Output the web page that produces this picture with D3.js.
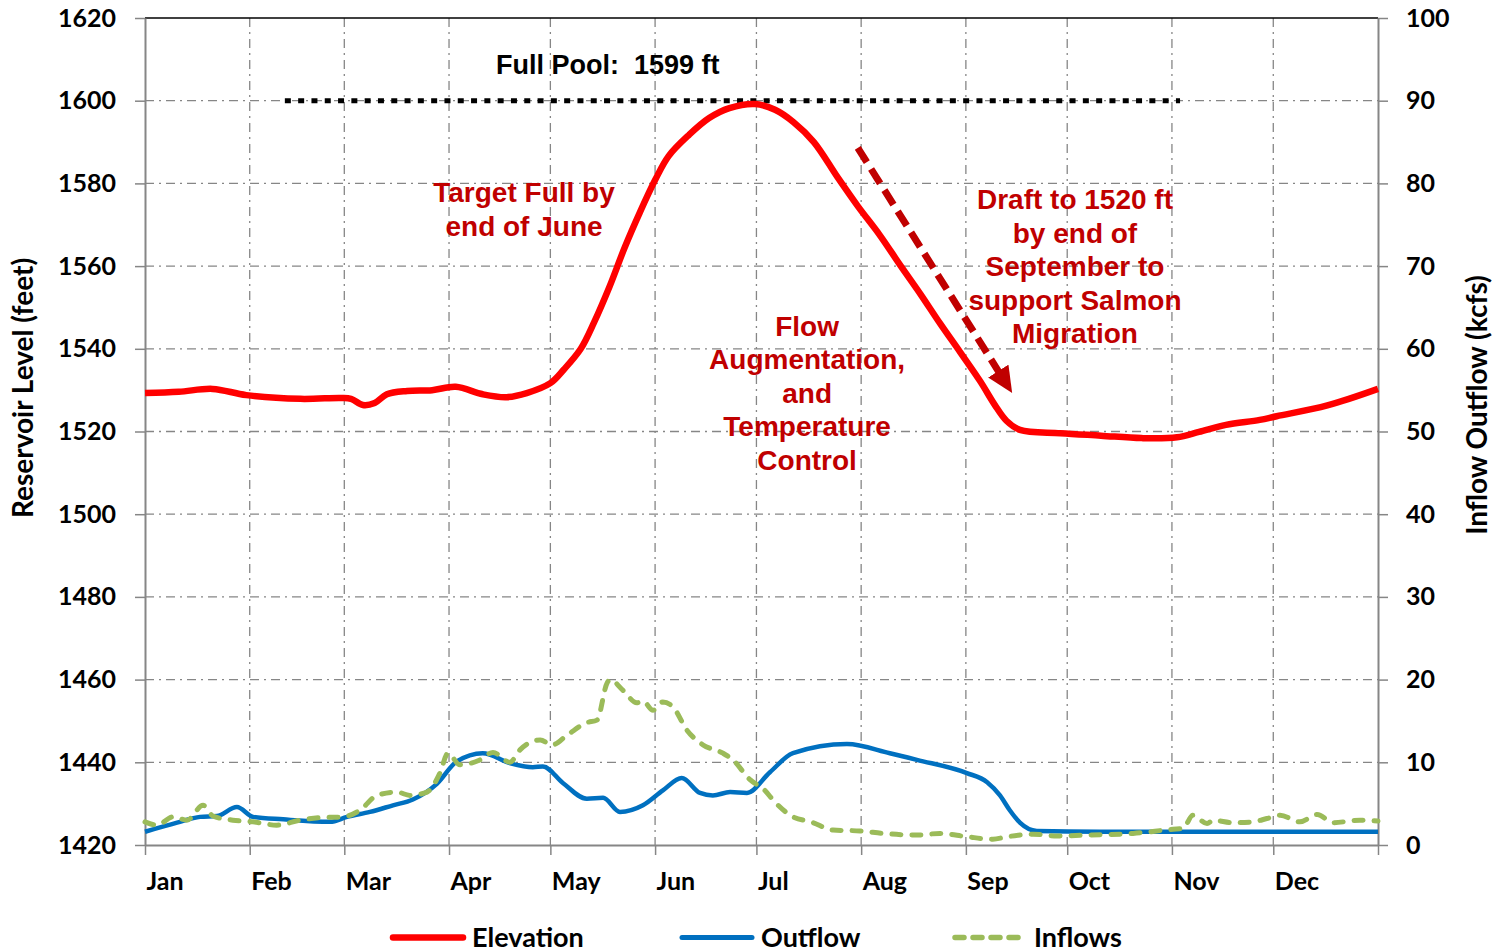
<!DOCTYPE html>
<html>
<head>
<meta charset="utf-8">
<script src="https://cdn.jsdelivr.net/npm/d3@7"></script>
<style>
  html, body { margin: 0; padding: 0; background: #ffffff; }
  svg { display: block; }
  text { white-space: pre; }
</style>
</head>
<body>
<svg id="chart" width="1499" height="952"></svg>
<script>
// ---------------- DATA ----------------
const months = ["Jan","Feb","Mar","Apr","May","Jun","Jul","Aug","Sep","Oct","Nov","Dec"];
const monthStartDays = [0,31,59,90,120,151,181,212,243,273,304,334,365];
const leftTicks = [1420,1440,1460,1480,1500,1520,1540,1560,1580,1600,1620];
const rightTicks = [0,10,20,30,40,50,60,70,80,90,100];

// Elevation (ft) : [day of year, value]
const elevation = [
  [0,1529.3],[10,1529.6],[20,1530.3],[30,1528.8],[46,1527.9],[58,1528.1],[61,1527.9],
  [64.5,1526.4],[68,1526.9],[71.6,1529.0],[77.6,1529.8],[85,1530.0],[92,1530.8],
  [100,1529.0],[107,1528.3],[113,1529.3],[120,1531.7],[124,1535.0],[129,1540.0],
  [133,1546.5],[137.5,1555.0],[142,1564.5],[146.5,1573.0],[151,1580.8],[155,1586.6],
  [161,1591.7],[167,1595.8],[173,1598.2],[180.6,1599.2],[186.5,1597.8],[192,1594.8],
  [198,1590.0],[205,1581.5],[211,1574.5],[217.5,1567.5],[223.5,1560.3],[229.5,1553.3],
  [235.3,1546.2],[241.3,1539.2],[247.2,1532.2],[251.5,1526.5],[255,1522.6],[259,1520.4],
  [271,1519.6],[283,1519.0],[295,1518.4],[305.5,1518.6],[312,1519.9],[320,1521.6],
  [330,1522.8],[335,1523.7],[350,1526.3],[365,1530.3]
];

// Outflow (kcfs) : [day, value]
const outflow = [
  [0,1.6],[9.5,2.7],[16.3,3.4],[21.3,3.5],[27.2,4.6],[32,3.4],[40.9,3.1],[54.8,2.8],
  [59.8,3.4],[66.6,4.0],[73.4,4.8],[79.3,5.5],[86.4,7.4],[92.3,10.1],[100,11.1],
  [108,9.9],[114.8,9.4],[117.8,9.5],[123.7,7.5],[130.8,5.6],[135.6,5.7],[140.6,4.0],
  [147.4,4.8],[153.3,6.6],[158.9,8.1],[164.3,6.3],[168.1,6.0],[173.2,6.4],[178.2,6.3],
  [185,8.8],[191.8,11.1],[207.8,12.2],[220.5,11.1],[228.5,10.3],[243.3,8.7],[249.3,7.6],
  [253.1,6.0],[256,4.2],[259,2.7],[264,1.7],[282.7,1.6],[312.3,1.6],[341.9,1.6],[365,1.6]
];

// Inflows (kcfs) : [day, value]
const inflows = [
  [0,2.8],[3.6,2.4],[8.3,3.4],[12.4,3.0],[17.2,4.8],[20.1,3.5],[26,3.0],[32,2.8],
  [39,2.4],[45.9,3.0],[51.8,3.3],[58.6,3.4],[63.6,4.2],[68.7,6.0],[74.6,6.4],[78.4,6.0],
  [83.5,6.4],[87.3,8.7],[89.7,11.1],[93.2,9.7],[99.2,10.3],[103,11.2],[108,10.0],
  [111,11.5],[117,12.7],[120.5,12.1],[125,13.3],[130.8,14.8],[133.8,15.1],[136.8,19.6],
  [137.7,20.0],[141.5,18.7],[145.6,17.2],[147.4,17.4],[150.4,16.3],[153.3,17.3],
  [156.3,16.7],[160.4,13.9],[165.2,12.1],[171.1,11.1],[174,10.3],[179.1,7.9],[183.5,6.6],
  [186,5.4],[191,3.6],[197.8,2.7],[203.7,1.8],[211.7,1.7],[218.5,1.4],[228.5,1.2],
  [235.3,1.4],[243.3,1.0],[251,0.7],[255.2,1.0],[262.9,1.3],[270,1.1],[278.9,1.2],
  [292.5,1.4],[304.3,1.9],[307.3,2.0],[310.2,3.6],[314.4,2.6],[316.2,3.0],[322.1,2.7],
  [328,2.8],[332.1,3.2],[336,3.6],[341.9,2.8],[347,3.7],[351.7,2.7],[359.7,3.0],[365,2.9]
];

const fullPool = { level: 1600, fromDay: 41.4, toDay: 306.4 };
const annotations = [
  { lines: ["Full Pool:  1599 ft"], day: 137, elev: 1606.5, color: "#000000", size: 27 },
  { lines: ["Target Full by", "end of June"], day: 112.2, elev: 1575.5, color: "#C00000", size: 28 },
  { lines: ["Flow", "Augmentation,", "and", "Temperature", "Control"], day: 196, elev: 1543.1, color: "#C00000", size: 28 },
  { lines: ["Draft to 1520 ft", "by end of", "September to", "support Salmon", "Migration"], day: 275.3, elev: 1573.8, color: "#C00000", size: 28 }
];
const draftArrow = { from: [211, 1588.6], to: [256.7, 1529.3] };

const seriesNames = ["Elevation", "Outflow", "Inflows"];
const leftTitle = "Reservoir Level (feet)";
const rightTitle = "Inflow Outflow (kcfs)";

// ---------------- LAYOUT ----------------
const svg = d3.select("#chart");
const X0 = 145, X1 = 1378, Y0 = 845, Y1 = 18;
const x = d3.scaleLinear().domain([0, 365]).range([X0, X1]);
const yL = d3.scaleLinear().domain([1420, 1620]).range([Y0, Y1]);
const yR = d3.scaleLinear().domain([0, 100]).range([Y0, Y1]);

const gridColor = "#868686";
const tickFont = "Lato, 'Open Sans', sans-serif";
const annFont = "'Liberation Sans', Arial, sans-serif";

// gridlines
const grid = svg.append("g");
grid.selectAll("line.h").data(leftTicks.filter(v => v > 1420 && v < 1620)).join("line")
  .attr("x1", X0).attr("x2", X1).attr("y1", d => yL(d)).attr("y2", d => yL(d))
  .attr("stroke", gridColor).attr("stroke-width", 1.3).attr("stroke-dasharray", "9,5,2,5");
grid.selectAll("line.v").data(monthStartDays.filter(d => d > 0 && d < 365)).join("line")
  .attr("x1", d => x(d)).attr("x2", d => x(d)).attr("y1", Y1).attr("y2", Y0)
  .attr("stroke", gridColor).attr("stroke-width", 1.3).attr("stroke-dasharray", "9,5,2,5");

// top border
svg.append("line").attr("x1", X0).attr("x2", X1).attr("y1", Y1).attr("y2", Y1)
  .attr("stroke", "#000").attr("stroke-width", 1.6);

// axes
function styleAxis(g) {
  g.select(".domain").attr("stroke", gridColor).attr("stroke-width", 2);
  g.selectAll(".tick line").attr("stroke", gridColor).attr("stroke-width", 1.5);
  g.selectAll("text").attr("font-family", tickFont).attr("font-weight", 700)
    .attr("font-size", 25).attr("fill", "#000");
}
const axL = svg.append("g").attr("transform", `translate(${X0},0)`)
  .call(d3.axisLeft(yL).tickValues(leftTicks).tickSize(10).tickPadding(19).tickFormat(d3.format("d")).tickSizeOuter(0));
styleAxis(axL);
const axR = svg.append("g").attr("transform", `translate(${X1},0)`)
  .call(d3.axisRight(yR).tickValues(rightTicks).tickSize(10).tickPadding(18).tickFormat(d3.format("d")).tickSizeOuter(0));
styleAxis(axR);
const axB = svg.append("g").attr("transform", `translate(0,${Y0})`)
  .call(d3.axisBottom(x).tickValues(monthStartDays).tickSize(10).tickSizeOuter(0)
    .tickFormat((d, i) => months[i] || ""));
styleAxis(axB);
axB.selectAll(".tick text").attr("text-anchor", "start").attr("x", 1).attr("y", 27).attr("dy", "0.71em");

// axis titles
svg.append("text").attr("transform", `translate(33,388) rotate(-90)`)
  .attr("text-anchor", "middle").attr("font-family", tickFont).attr("font-weight", 700)
  .attr("font-size", 28).text(leftTitle);
svg.append("text").attr("transform", `translate(1487,405) rotate(-90)`)
  .attr("text-anchor", "middle").attr("font-family", tickFont).attr("font-weight", 700)
  .attr("font-size", 28).text(rightTitle);

// full pool line
svg.append("line")
  .attr("x1", x(fullPool.fromDay)).attr("x2", x(fullPool.toDay))
  .attr("y1", yL(fullPool.level)).attr("y2", yL(fullPool.level))
  .attr("stroke", "#000").attr("stroke-width", 5).attr("stroke-dasharray", "6,7.3");

// series
const lineL = d3.line().x(d => x(d[0])).y(d => yL(d[1])).curve(d3.curveCatmullRom.alpha(0.5));
const lineR = d3.line().x(d => x(d[0])).y(d => yR(d[1])).curve(d3.curveMonotoneX);

svg.append("path").datum(elevation).attr("d", lineL).attr("fill", "none")
  .attr("stroke", "#FF0000").attr("stroke-width", 6.5).attr("stroke-linejoin", "round");
svg.append("path").datum(outflow).attr("d", lineR).attr("fill", "none")
  .attr("stroke", "#0070C0").attr("stroke-width", 4.5).attr("stroke-linejoin", "round");
svg.append("path").datum(inflows).attr("d", lineR).attr("fill", "none")
  .attr("stroke", "#9BBB59").attr("stroke-width", 5).attr("stroke-linecap", "round")
  .attr("stroke-dasharray", "9,11");

// arrow
const defs = svg.append("defs");
defs.append("marker").attr("id", "ah").attr("markerUnits", "userSpaceOnUse")
  .attr("viewBox", "0 0 26 24").attr("refX", 26).attr("refY", 12)
  .attr("markerWidth", 26).attr("markerHeight", 24).attr("orient", "auto")
  .append("path").attr("d", "M0,0 L26,12 L0,24 Z").attr("fill", "#C00000");
const a0 = [x(draftArrow.from[0]), yL(draftArrow.from[1])];
const a1 = [x(draftArrow.to[0]), yL(draftArrow.to[1])];
const len = Math.hypot(a1[0] - a0[0], a1[1] - a0[1]);
const ux = (a1[0] - a0[0]) / len, uy = (a1[1] - a0[1]) / len;
svg.append("line").attr("x1", a0[0]).attr("y1", a0[1])
  .attr("x2", a1[0] - ux * 20).attr("y2", a1[1] - uy * 20)
  .attr("stroke", "#C00000").attr("stroke-width", 7).attr("stroke-dasharray", "17,8");
svg.append("line").attr("x1", a1[0] - ux * 26).attr("y1", a1[1] - uy * 26)
  .attr("x2", a1[0]).attr("y2", a1[1])
  .attr("stroke", "none").attr("marker-end", "url(#ah)");

// annotations
annotations.forEach(a => {
  const t = svg.append("text").attr("x", x(a.day)).attr("y", yL(a.elev))
    .attr("text-anchor", "middle").attr("font-family", annFont).attr("font-weight", 700)
    .attr("font-size", a.size).attr("fill", a.color).attr("xml:space", "preserve");
  a.lines.forEach((ln, i) => {
    t.append("tspan").attr("x", x(a.day)).attr("dy", i === 0 ? 0 : 33.5).text(ln);
  });
});

// legend
const legendItems = [
  { name: seriesNames[0], color: "#FF0000", width: 6.5, dash: null, x0: 393 },
  { name: seriesNames[1], color: "#0070C0", width: 5, dash: null, x0: 682 },
  { name: seriesNames[2], color: "#9BBB59", width: 5.5, dash: "9,9", x0: 955 }
];
const lg = svg.append("g");
legendItems.forEach(it => {
  const l = lg.append("line").attr("x1", it.x0).attr("x2", it.x0 + 70)
    .attr("y1", 937.5).attr("y2", 937.5).attr("stroke", it.color)
    .attr("stroke-width", it.width).attr("stroke-linecap", "round");
  if (it.dash) l.attr("stroke-dasharray", it.dash);
  lg.append("text").attr("x", it.x0 + 79).attr("y", 947).attr("font-family", tickFont)
    .attr("font-weight", 700).attr("font-size", 27).text(it.name);
});
</script>
</body>
</html>
